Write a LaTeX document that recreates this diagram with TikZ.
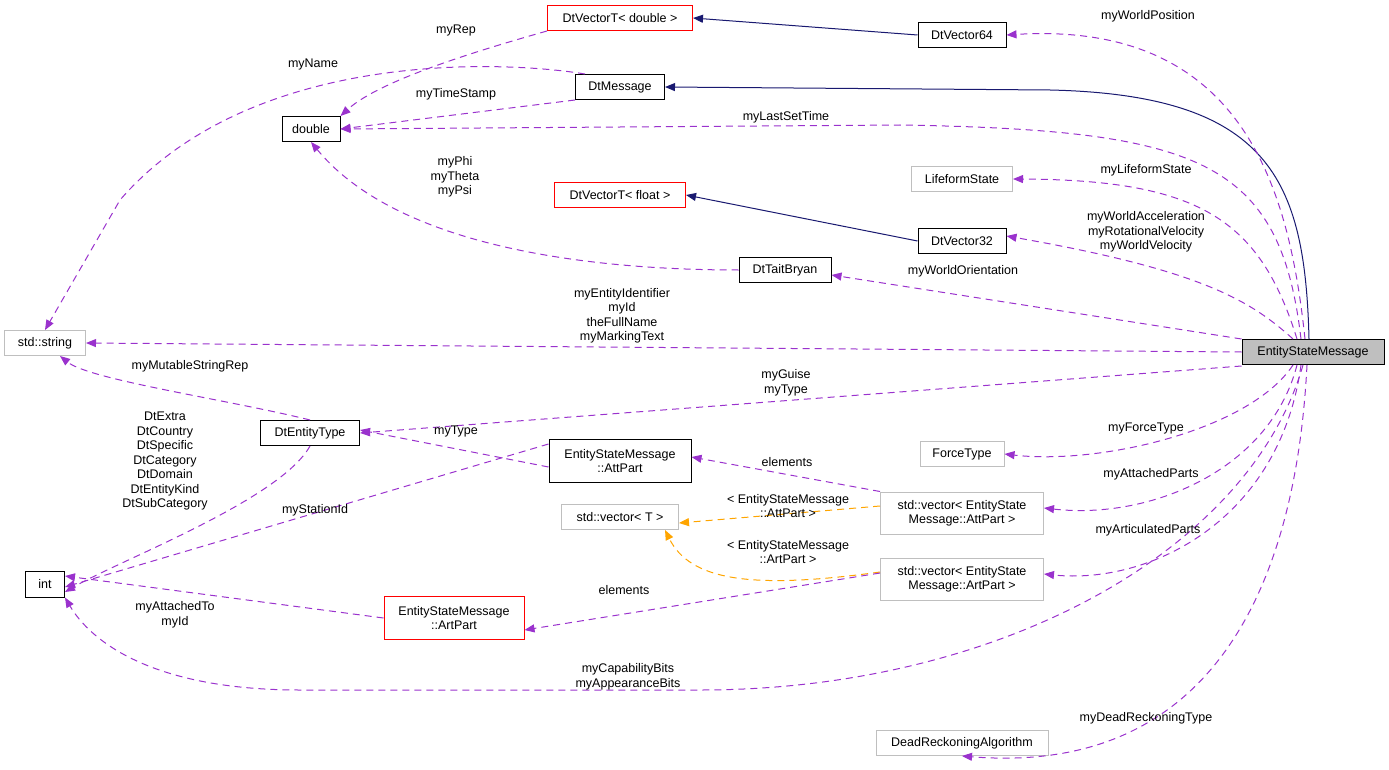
\documentclass[tikz,border=0pt]{standalone}
\usepackage{fontspec}
\setmainfont{Liberation Sans}
\usetikzlibrary{arrows.meta}
\definecolor{dep}{HTML}{9A32CD}
\definecolor{inh}{HTML}{191970}
\definecolor{tmpl}{HTML}{FFA500}
\definecolor{grey}{HTML}{BFBFBF}
\tikzset{
  cls/.style={draw=black, fill=white, line width=1pt, inner sep=0pt, minimum height=25pt, align=center, font=\fontsize{12.5}{14}\selectfont},
  ext/.style={cls, draw=grey},
  red/.style={cls, draw=red},
  lbl/.style={align=center, inner sep=0pt, font=\fontsize{12.5}{14.5}\selectfont},
  use/.style={draw=dep, line width=1pt, dash pattern=on 7pt off 5pt, -{Triangle[length=10pt,width=8pt,fill=dep]}},
  isa/.style={draw=inh, line width=1pt, -{Triangle[length=10pt,width=8pt,fill=inh]}},
  tpl/.style={draw=tmpl, line width=1pt, dash pattern=on 7pt off 5pt, -{Triangle[length=10pt,width=8pt,fill=tmpl]}}
}
\begin{document}
\begin{tikzpicture}[x=1pt,y=-1pt]
  \useasboundingbox (0,0) rectangle (1389,770);
  % classes
  \node[cls, fill=grey, minimum width=142pt] (esm) at (1313,352) {EntityStateMessage};
  \node[red, minimum width=145pt] (vtd) at (620,18) {DtVectorT< double >};
  \node[cls, minimum width=88pt] (v64) at (962,35) {DtVector64};
  \node[cls, minimum width=89pt] (msg) at (620,87) {DtMessage};
  \node[cls, minimum width=58pt] (dbl) at (311,129) {double};
  \node[ext, minimum width=101pt] (life) at (962,179) {LifeformState};
  \node[red, minimum width=131pt] (vtf) at (620,195) {DtVectorT< float >};
  \node[cls, minimum width=88pt] (v32) at (962,241) {DtVector32};
  \node[cls, minimum width=92pt] (tait) at (785,270) {DtTaitBryan};
  \node[ext, minimum width=81pt] (str) at (45,343) {std::string};
  \node[cls, minimum width=99pt] (etype) at (310,433) {DtEntityType};
  \node[cls, minimum width=142pt, minimum height=43pt] (att) at (620,461) {EntityStateMessage\\::AttPart};
  \node[ext, minimum width=84pt] (force) at (962,454) {ForceType};
  \node[ext, minimum width=163pt, minimum height=42pt] (vatt) at (962,513) {std::vector< EntityState\\Message::AttPart >};
  \node[ext, minimum width=117pt] (vt) at (620,517) {std::vector< T >};
  \node[ext, minimum width=163pt, minimum height=42pt] (vart) at (962,579) {std::vector< EntityState\\Message::ArtPart >};
  \node[cls, minimum width=39pt, minimum height=26pt] (int) at (45,584) {int};
  \node[red, minimum width=140pt, minimum height=43pt] (art) at (454,618) {EntityStateMessage\\::ArtPart};
  \node[ext, minimum width=172pt] (dead) at (962,743) {DeadReckoningAlgorithm};
  % inheritance
  \draw[isa] (v64.west) -- (vtd.east);
  \draw[isa] (v32.west) -- (vtf.east);
  \draw[isa] ([xshift=-4pt]esm.north) .. controls (1305,180) and (1270,95) .. (1050,90) -- (msg.east);
  % usage
  \draw[use] ([xshift=-8pt]esm.north) .. controls (1290,200) and (1250,20) .. (v64.east);
  \draw[use] (vtd.south west) .. controls (480,50) and (380,80) .. (dbl.north east);
  \draw[use] ([xshift=10pt]msg.north west) .. controls (500,60) and (250,50) .. (120,200) -- (str.north);
  \draw[use] (msg.south west) -- (dbl.east);
  \draw[use] ([xshift=-12pt]esm.north) .. controls (1280,160) and (1200,130) .. (900,125) -- (dbl.east);
  \draw[use] ([xshift=-16pt]esm.north) .. controls (1260,220) and (1200,180) .. (life.east);
  \draw[use] (tait.west) .. controls (600,270) and (400,250) .. (dbl.south);
  \draw[use] ([xshift=-20pt]esm.north) .. controls (1250,300) and (1200,270) .. ([yshift=5pt]v32.east);
  \draw[use] (esm.north west) -- ([yshift=8pt]tait.south east);
  \draw[use] (esm.west) -- (str.east);
  \draw[use] (etype.north) .. controls (230,400) and (90,380) .. ([xshift=15pt]str.south);
  \draw[use] ([yshift=-14pt]esm.west) -- (etype.east);
  \draw[use] ([yshift=-6pt]att.west) -- ([yshift=3pt]etype.east);
  \draw[use] (etype.south) .. controls (280,500) and (120,560) .. ([yshift=-8pt]int.east);
  \draw[use] ([yshift=17pt]att.west) -- ([yshift=-3pt]int.east);
  \draw[use] (art.west) -- ([yshift=8pt]int.east);
  \draw[use] ([xshift=-10pt]esm.south) .. controls (1250,550) and (1000,690) .. (700,690) -- (300,690) .. controls (150,690) and (90,640) .. (int.south east);
  \draw[use] ([xshift=-20pt]esm.south) .. controls (1250,430) and (1100,465) .. (force.east);
  \draw[use] ([xshift=-16pt]esm.south) .. controls (1270,470) and (1150,520) .. ([yshift=5pt]vatt.east);
  \draw[use] ([xshift=-12pt]esm.south) .. controls (1280,520) and (1150,585) .. ([yshift=5pt]vart.east);
  \draw[use] ([xshift=-6pt]esm.south) .. controls (1300,500) and (1260,780) .. (dead.south);
  \draw[use] (vatt.north west) -- ([yshift=4pt]att.east);
  \draw[tpl] ([yshift=7pt]vatt.west) -- ([yshift=7pt]vt.south east);
  \draw[tpl] ([yshift=7pt]vart.west) .. controls (750,590) and (690,580) .. ([xshift=45pt]vt.south);
  \draw[use] ([yshift=6pt]vart.west) -- ([yshift=-12pt]art.east);
  % labels
  \node[lbl] (l1) at (1148,16) {myWorldPosition};
  \node[lbl] (l2) at (456,30) {myRep};
  \node[lbl] (l3) at (313,64) {myName};
  \node[lbl] (l4) at (456,94) {myTimeStamp};
  \node[lbl] (l5) at (786,117) {myLastSetTime};
  \node[lbl] (l6) at (1146,170) {myLifeformState};
  \node[lbl] (l7) at (455,177) {myPhi\\myTheta\\myPsi};
  \node[lbl] (l8) at (1146,232) {myWorldAcceleration\\myRotationalVelocity\\myWorldVelocity};
  \node[lbl] (l9) at (963,271) {myWorldOrientation};
  \node[lbl] (l10) at (622,316) {myEntityIdentifier\\myId\\theFullName\\myMarkingText};
  \node[lbl] (l11) at (190,366) {myMutableStringRep};
  \node[lbl] (l12) at (786,383) {myGuise\\myType};
  \node[lbl] (l13) at (456,431) {myType};
  \node[lbl] (l14) at (787,462) {elements};
  \node[lbl] (l15) at (165,461) {DtExtra\\DtCountry\\DtSpecific\\DtCategory\\DtDomain\\DtEntityKind\\DtSubCategory};
  \node[lbl] (l16) at (315,510) {myStationId};
  \node[lbl] (l17) at (1146,428) {myForceType};
  \node[lbl] (l18) at (1151,474) {myAttachedParts};
  \node[lbl] (l19) at (788,506) {< EntityStateMessage\\::AttPart >};
  \node[lbl] (l20) at (1148,530) {myArticulatedParts};
  \node[lbl] (l21) at (788,552) {< EntityStateMessage\\::ArtPart >};
  \node[lbl] (l22) at (624,590) {elements};
  \node[lbl] (l23) at (175,615) {myAttachedTo\\myId};
  \node[lbl] (l24) at (628,677) {myCapabilityBits\\myAppearanceBits};
  \node[lbl] (l25) at (1146,718) {myDeadReckoningType};
\end{tikzpicture}
\end{document}
